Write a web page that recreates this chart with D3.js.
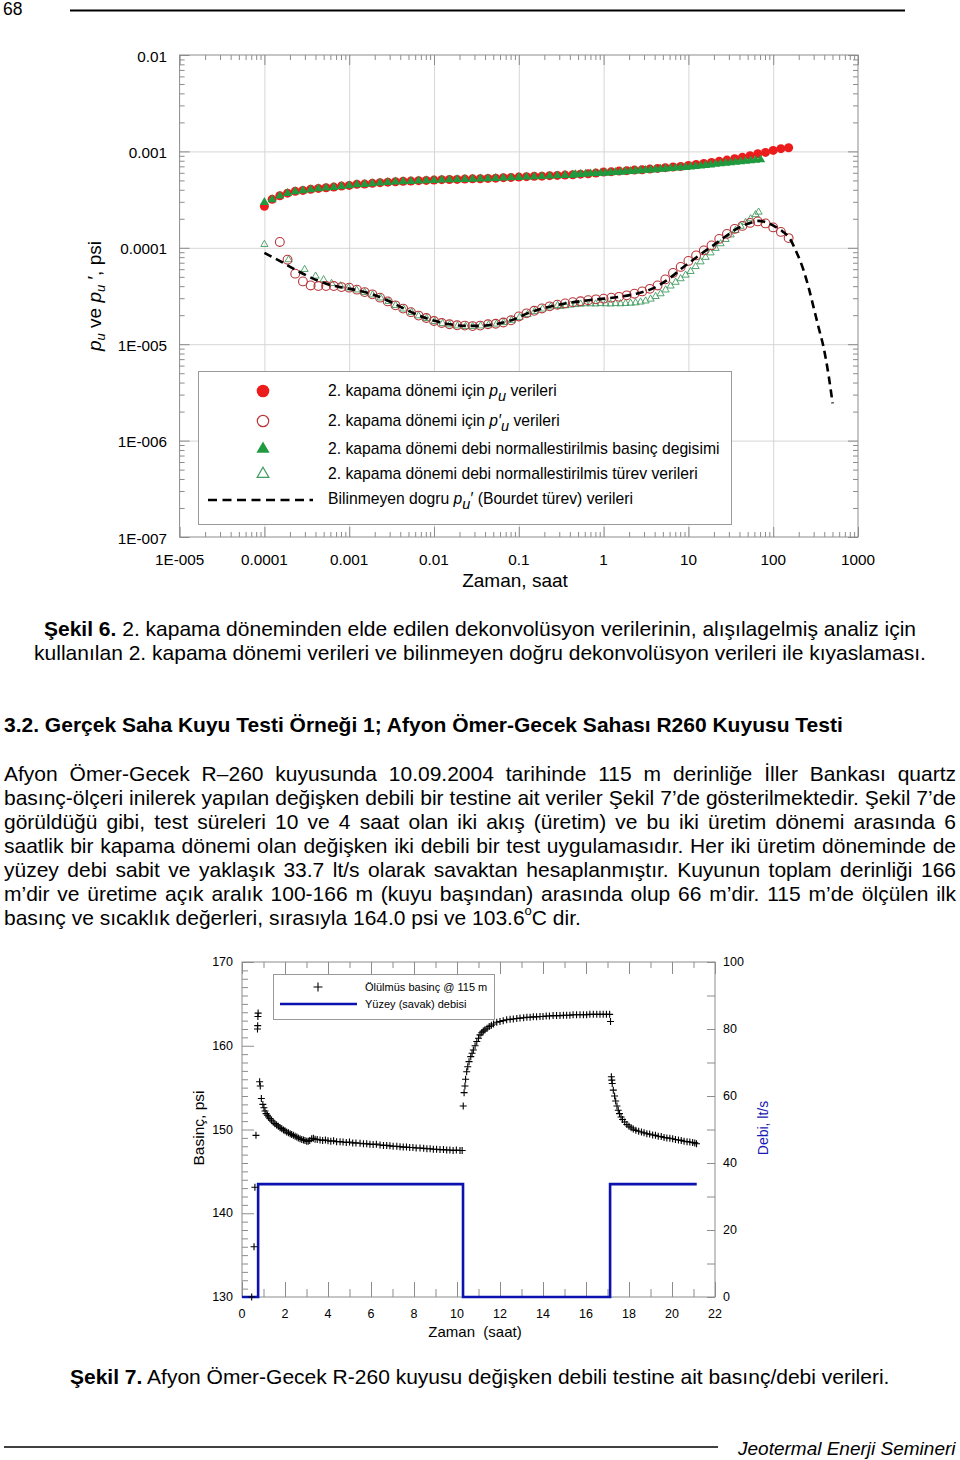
<!DOCTYPE html>
<html><head><meta charset="utf-8">
<script src="https://cdn.jsdelivr.net/npm/d3@7"></script>
<style>
body{margin:0;background:#fff}
svg{display:block}
text{font-family:"Liberation Sans",Arial,Helvetica,sans-serif;fill:#000}
</style>
</head><body>
<svg id="page" width="960" height="1460"></svg>
<script>
// ---------------- DATA: chart 1 (log-log, Şekil 6) ----------------
const xTickLabels1 = ["1E-005","0.0001","0.001","0.01","0.1","1","10","100","1000"];
const yTickLabels1 = ["1E-007","1E-006","1E-005","0.0001","0.001","0.01"];

const shutinTimes = [1e-4,1.233e-4,1.52e-4,1.874e-4,2.31e-4,2.848e-4,3.511e-4,4.329e-4,5.337e-4,6.579e-4,8.111e-4,
1e-3,1.233e-3,1.52e-3,1.874e-3,2.31e-3,2.848e-3,3.511e-3,4.329e-3,5.337e-3,6.579e-3,8.111e-3,
0.01,0.01233,0.0152,0.01874,0.0231,0.02848,0.03511,0.04329,0.05337,0.06579,0.08111,
0.1,0.1233,0.152,0.1874,0.231,0.2848,0.3511,0.4329,0.5337,0.6579,0.8111,
1,1.233,1.52,1.874,2.31,2.848,3.511,4.329,5.337,6.579,8.111,
10,12.33,15.2,18.74,23.1,28.48,35.11,43.29,53.37,65.79,81.11,
100,123.3,152];

const puValues = [2.69e-4,3.18e-4,3.47e-4,3.69e-4,3.85e-4,3.94e-4,4.04e-4,4.13e-4,4.20e-4,4.26e-4,4.37e-4,
4.44e-4,4.55e-4,4.58e-4,4.66e-4,4.74e-4,4.80e-4,4.85e-4,4.89e-4,4.92e-4,4.97e-4,5.00e-4,
5.04e-4,5.09e-4,5.11e-4,5.12e-4,5.16e-4,5.19e-4,5.21e-4,5.25e-4,5.28e-4,5.34e-4,5.37e-4,
5.41e-4,5.47e-4,5.51e-4,5.54e-4,5.60e-4,5.64e-4,5.68e-4,5.73e-4,5.81e-4,5.87e-4,5.96e-4,
6.10e-4,6.16e-4,6.25e-4,6.31e-4,6.40e-4,6.46e-4,6.55e-4,6.66e-4,6.78e-4,6.87e-4,6.99e-4,
7.16e-4,7.33e-4,7.51e-4,7.69e-4,7.88e-4,8.12e-4,8.40e-4,8.67e-4,9.02e-4,9.47e-4,9.76e-4,
1.024e-3,1.067e-3,1.092e-3];

// p'_u : same times as p_u, starting from the 3rd time
const dpuValues = [1.15e-4,7.53e-5,5.39e-5,4.48e-5,4.07e-5,4.01e-5,4.01e-5,4.01e-5,3.91e-5,
3.86e-5,3.68e-5,3.47e-5,3.29e-5,3.04e-5,2.78e-5,2.53e-5,2.34e-5,2.15e-5,1.98e-5,1.87e-5,
1.74e-5,1.66e-5,1.61e-5,1.57e-5,1.56e-5,1.54e-5,1.56e-5,1.61e-5,1.63e-5,1.68e-5,1.77e-5,
1.94e-5,2.09e-5,2.22e-5,2.35e-5,2.47e-5,2.57e-5,2.65e-5,2.73e-5,2.79e-5,2.86e-5,2.92e-5,
2.97e-5,3.04e-5,3.10e-5,3.21e-5,3.34e-5,3.53e-5,3.75e-5,4.07e-5,4.70e-5,5.49e-5,6.34e-5,
7.31e-5,8.34e-5,9.40e-5,1.059e-4,1.237e-4,1.394e-4,1.571e-4,1.687e-4,1.813e-4,1.879e-4,1.791e-4,
1.628e-4,1.462e-4,1.261e-4];

// rate-normalised pressure change (green filled triangles)
const rnEarlyValues = [2.96e-4,3.16e-4,3.45e-4,3.67e-4,3.83e-4,3.92e-4,4.02e-4,4.11e-4,4.18e-4,4.24e-4,4.35e-4,
4.42e-4,4.53e-4,4.56e-4,4.64e-4,4.72e-4,4.78e-4,4.83e-4,4.87e-4,4.90e-4,4.95e-4,4.98e-4,
5.02e-4,5.07e-4,5.09e-4,5.10e-4,5.14e-4,5.17e-4,5.19e-4,5.23e-4,5.26e-4,5.31e-4,5.34e-4,
5.38e-4,5.43e-4,5.47e-4,5.50e-4,5.56e-4,5.60e-4,5.64e-4,5.69e-4];
const rnLateTimes = [0.4675,0.5356,0.6134,0.7026,0.8047,0.9218,1.056,1.209,1.385,1.586,1.817,2.082,2.385,2.731,3.129,3.583,4.104,4.701,5.384,6.168,7.065,8.091,9.268,10.61,12.16,13.93,15.95,18.27,20.93,23.98,27.47,31.46,36.04,41.28,47.27,54.15,62.02,71.03];
const rnLateValues = [5.76e-4,5.79e-4,5.83e-4,5.87e-4,5.91e-4,5.94e-4,5.97e-4,6.03e-4,6.07e-4,6.11e-4,6.17e-4,6.22e-4,6.28e-4,6.32e-4,6.38e-4,6.43e-4,6.49e-4,6.55e-4,6.60e-4,6.66e-4,6.73e-4,6.78e-4,6.84e-4,6.91e-4,6.99e-4,7.07e-4,7.17e-4,7.26e-4,7.37e-4,7.45e-4,7.54e-4,7.64e-4,7.73e-4,7.82e-4,7.91e-4,8.01e-4,8.10e-4,8.20e-4];

// rate-normalised derivative (green open triangles)
const rnDerivTimes = [1.0e-4,1.928e-4,2.979e-4,4.018e-4,4.989e-4,6.194e-4,7.925e-4,9.84e-4,1.222e-3,1.52e-3,1.888e-3,2.344e-3,2.917e-3,3.524e-3,4.385e-3,5.445e-3,6.577e-3,8.185e-3,1.016e-2,1.262e-2,1.528e-2,1.897e-2,2.36e-2,2.851e-2,3.548e-2,4.406e-2,5.47e-2,6.622e-2,8.22e-2,0.1021,0.127,0.1535,0.1909,0.2371,0.2871,
0.3111,0.3563,0.4081,0.4675,0.5356,0.6134,0.7026,0.8047,0.9218,1.056,1.209,1.385,1.586,1.817,2.082,2.385,2.731,3.129,3.583,4.104,4.701,5.384,6.168,7.065,8.091,9.268,10.61,12.16,13.93,15.95,18.27,20.93,23.98,27.47,31.46,36.04,41.28,47.27,54.15,62.02,67.27];
const rnDerivValues = [1.085e-4,7.53e-5,5.97e-5,5.09e-5,4.67e-5,4.27e-5,4.03e-5,3.84e-5,3.66e-5,3.45e-5,3.25e-5,3.02e-5,2.78e-5,2.53e-5,2.32e-5,2.14e-5,1.97e-5,1.85e-5,1.72e-5,1.64e-5,1.59e-5,1.55e-5,1.53e-5,1.53e-5,1.55e-5,1.59e-5,1.62e-5,1.68e-5,1.77e-5,1.90e-5,2.04e-5,2.19e-5,2.32e-5,2.44e-5,2.53e-5,
2.47e-5,2.51e-5,2.55e-5,2.58e-5,2.61e-5,2.63e-5,2.63e-5,2.62e-5,2.64e-5,2.63e-5,2.62e-5,2.64e-5,2.63e-5,2.65e-5,2.67e-5,2.69e-5,2.74e-5,2.81e-5,2.94e-5,3.13e-5,3.34e-5,3.66e-5,4.02e-5,4.39e-5,4.78e-5,5.21e-5,5.69e-5,6.40e-5,7.16e-5,7.97e-5,8.87e-5,9.88e-5,1.103e-4,1.222e-4,1.361e-4,1.515e-4,1.675e-4,1.834e-4,2.004e-4,2.21e-4,2.346e-4];

// unknown true Bourdet derivative (dashed)
const bourdetTimes = [1.0e-4,1.552e-4,2.399e-4,3.698e-4,5.715e-4,8.36e-4,1.256e-3,1.888e-3,2.917e-3,4.385e-3,6.577e-3,1.016e-2,1.528e-2,2.36e-2,3.548e-2,5.47e-2,8.22e-2,0.127,0.1909,0.2946,0.4426,0.6653,1.027,1.544,2.385,3.583,4.452,5.534,6.877,8.315,10.33,12.84,15.52,19.29,23.97,29.79,36.04,44.77,55.63,67.27,83.58,103.9,129.1,156.1,188.8,228.3,261.5,299.5,343.1,392.9,450.2,501.9];
const bourdetValues = [8.85e-5,7.23e-5,5.83e-5,4.82e-5,4.17e-5,3.88e-5,3.62e-5,3.29e-5,2.81e-5,2.35e-5,1.99e-5,1.75e-5,1.61e-5,1.55e-5,1.55e-5,1.62e-5,1.77e-5,2.09e-5,2.35e-5,2.57e-5,2.73e-5,2.86e-5,2.97e-5,3.10e-5,3.33e-5,3.70e-5,4.07e-5,4.59e-5,5.30e-5,6.11e-5,7.06e-5,8.14e-5,9.18e-5,1.046e-4,1.208e-4,1.377e-4,1.552e-4,1.707e-4,1.834e-4,1.901e-4,1.834e-4,1.667e-4,1.479e-4,1.252e-4,8.96e-5,5.83e-5,3.88e-5,2.41e-5,1.49e-5,9.27e-6,4.75e-6,2.43e-6];

// ---------------- DATA: chart 2 (Şekil 7) ----------------
const xTickLabels2 = [0,2,4,6,8,10,12,14,16,18,20,22];
const yLeftTicks2 = [130,140,150,160,170];
const yRightTicks2 = [0,20,40,60,80,100];
const flowTimes = [0,0.75,10.28,17.12,21.15];
const flowRates = [0,33.7,0,33.7,33.7];
const pressureTimes = [0.45,0.56,0.60,0.65,0.72,0.73,0.74,0.75,0.82,0.85,0.90,0.97,1.02,1.07,1.12,1.18,1.24,1.30,1.37,1.45,1.53,1.61,1.69,1.77,1.85,1.93,2.00,2.08,2.16,2.24,2.31,2.39,2.47,2.55,2.62,2.70,2.78,2.86,2.93,3.01,3.08,3.15,3.24,3.32,3.40,3.50,3.63,3.75,3.88,4.00,4.13,4.26,4.40,4.56,4.70,4.85,5.00,5.15,5.30,5.49,5.65,5.80,5.95,6.10,6.25,6.42,6.58,6.73,6.88,7.03,7.20,7.35,7.50,7.65,7.80,7.95,8.10,8.28,8.45,8.60,8.75,8.90,9.05,9.21,9.37,9.52,9.67,9.82,9.97,10.14,10.24,
10.29,10.33,10.37,10.40,10.45,10.50,10.56,10.64,10.70,10.76,10.84,10.92,11.00,11.07,11.15,11.22,11.30,11.40,11.50,11.60,11.70,11.85,12.00,12.15,12.31,12.47,12.62,12.78,12.93,13.10,13.25,13.40,13.55,13.70,13.86,14.00,14.15,14.30,14.47,14.63,14.79,14.95,15.10,15.25,15.40,15.56,15.72,15.88,16.03,16.18,16.34,16.50,16.65,16.80,16.95,17.10,
17.14,17.18,17.20,17.22,17.27,17.33,17.38,17.44,17.50,17.56,17.63,17.70,17.80,17.90,18.00,18.10,18.20,18.32,18.45,18.58,18.70,18.83,18.96,19.10,19.23,19.36,19.50,19.63,19.76,19.90,20.03,20.16,20.30,20.43,20.56,20.70,20.83,20.96,21.06,21.14];
const pressureValues = [130.0,136.0,143.1,149.3,162.0,162.4,163.5,163.9,155.7,155.2,153.7,153.0,152.6,152.2,151.9,151.7,151.5,151.3,151.1,150.9,150.7,150.55,150.4,150.2,150.1,149.95,149.85,149.7,149.6,149.5,149.4,149.3,149.2,149.1,149.0,148.9,148.8,148.75,148.7,148.6,148.6,148.7,148.9,148.95,148.85,148.8,148.75,148.7,148.75,148.65,148.6,148.65,148.55,148.55,148.5,148.45,148.5,148.4,148.4,148.35,148.3,148.3,148.25,148.2,148.25,148.15,148.1,148.1,148.05,148.0,148.0,147.95,147.9,147.9,147.85,147.85,147.8,147.8,147.75,147.7,147.7,147.65,147.65,147.6,147.6,147.55,147.55,147.5,147.55,147.5,147.5,
152.8,154.4,155.2,156.0,156.9,157.5,158.1,158.7,159.1,159.5,160.0,160.5,160.9,161.3,161.55,161.75,161.9,162.1,162.3,162.45,162.6,162.8,162.9,163.0,163.1,163.15,163.2,163.25,163.3,163.35,163.4,163.4,163.45,163.45,163.5,163.5,163.55,163.55,163.6,163.6,163.6,163.65,163.65,163.65,163.7,163.7,163.7,163.7,163.7,163.75,163.75,163.75,163.75,163.75,163.75,163.75,
162.9,156.3,155.9,155.5,154.7,154.0,153.4,152.8,152.3,151.9,151.5,151.2,150.9,150.6,150.4,150.2,150.05,149.9,149.8,149.7,149.6,149.5,149.45,149.35,149.3,149.2,149.15,149.05,149.0,148.95,148.9,148.8,148.75,148.7,148.6,148.55,148.5,148.45,148.4,148.3];

// ---------------- TEXT ----------------
const pageNumber = "68";
const footerText = "Jeotermal Enerji Semineri";
const caption6a = ["Şekil 6.", " 2. kapama döneminden elde edilen dekonvolüsyon verilerinin, alışılagelmiş analiz için"];
const caption6b = "kullanılan 2. kapama dönemi verileri ve bilinmeyen doğru dekonvolüsyon verileri ile kıyaslaması.";
const sectionTitle = "3.2. Gerçek Saha Kuyu Testi Örneği 1; Afyon Ömer-Gecek Sahası R260 Kuyusu Testi";
const paragraphLines = [
 "Afyon Ömer-Gecek R–260 kuyusunda 10.09.2004 tarihinde 115 m derinliğe İller Bankası quartz",
 "basınç-ölçeri inilerek yapılan değişken debili bir testine ait veriler Şekil 7’de gösterilmektedir. Şekil 7’de",
 "görüldüğü gibi, test süreleri 10 ve 4 saat olan iki akış (üretim) ve bu iki üretim dönemi arasında 6",
 "saatlik bir kapama dönemi olan değişken iki debili bir test uygulamasıdır. Her iki üretim döneminde de",
 "yüzey debi sabit ve yaklaşık 33.7 lt/s olarak savaktan hesaplanmıştır. Kuyunun toplam derinliği 166",
 "m’dir ve üretime açık aralık 100-166 m (kuyu başından) arasında olup 66 m’dir. 115 m’de ölçülen ilk"
];
const paragraphLast = ["basınç ve sıcaklık değerleri, sırasıyla 164.0 psi ve 103.6", "o", "C dir."];
const caption7 = ["Şekil 7.", " Afyon Ömer-Gecek R-260 kuyusu değişken debili testine ait basınç/debi verileri."];

// ---------------- DRAWING ----------------
const svg = d3.select('#page');
const AX = '#8c8c8c';

// header
svg.append('text').attr('x',3).attr('y',9).attr('dominant-baseline','central').attr('font-size',17.5).text(pageNumber);
svg.append('line').attr('x1',70).attr('x2',905).attr('y1',10.5).attr('y2',10.5).attr('stroke','#000').attr('stroke-width',2);

// ===== Chart 1 =====
const c1 = svg.append('g');
const X1L=179.6, X1R=858, Y1T=55, Y1B=537;
const x1 = d3.scaleLog().domain([1e-5,1000]).range([X1L,X1R]);
const y1 = d3.scaleLog().domain([1e-7,0.01]).range([Y1B,Y1T]);
const isMajor = v => Math.abs(Math.log10(v)-Math.round(Math.log10(v)))<1e-6;
const xMaj1 = xTickLabels1.map(Number), yMaj1 = yTickLabels1.map(Number);
const xMin1 = x1.ticks().filter(v=>!isMajor(v));
const yMin1 = y1.ticks().filter(v=>!isMajor(v));

// grid
c1.append('g').attr('transform',`translate(0,${Y1B})`)
  .call(d3.axisBottom(x1).tickValues(xMaj1.slice(1,-1)).tickSize(-(Y1B-Y1T)).tickFormat(''))
  .call(g=>{g.select('.domain').remove(); g.selectAll('line').attr('stroke','#d6d6d6');});
c1.append('g').attr('transform',`translate(${X1L},0)`)
  .call(d3.axisLeft(y1).tickValues(yMaj1.slice(1,-1)).tickSize(-(X1R-X1L)).tickFormat(''))
  .call(g=>{g.select('.domain').remove(); g.selectAll('line').attr('stroke','#d6d6d6');});

function tickSet(g, axis, vals, size){
  g.call(axis.tickValues(vals).tickSize(-size).tickFormat(''))
   .call(s=>{s.select('.domain').remove(); s.selectAll('line').attr('stroke',AX);});
}
[[d3.axisBottom,`translate(0,${Y1B})`,x1,xMaj1,xMin1],[d3.axisTop,`translate(0,${Y1T})`,x1,xMaj1,xMin1],
 [d3.axisLeft,`translate(${X1L},0)`,y1,yMaj1,yMin1],[d3.axisRight,`translate(${X1R},0)`,y1,yMaj1,yMin1]]
 .forEach(([fn,tr,sc,maj,min])=>{
   tickSet(c1.append('g').attr('transform',tr), fn(sc), maj, 10);
   tickSet(c1.append('g').attr('transform',tr), fn(sc), min, 5);
 });
c1.append('rect').attr('x',X1L).attr('y',Y1T).attr('width',X1R-X1L).attr('height',Y1B-Y1T)
  .attr('fill','none').attr('stroke',AX);

// tick labels
c1.selectAll('.xl').data(xTickLabels1).join('text').attr('x',d=>x1(+d)).attr('y',559)
  .attr('text-anchor','middle').attr('dominant-baseline','central').attr('font-size',15.3).text(d=>d);
c1.selectAll('.yl').data(yTickLabels1).join('text').attr('x',167).attr('y',d=>y1(+d)+1)
  .attr('text-anchor','end').attr('dominant-baseline','central').attr('font-size',15.3).text(d=>d);
c1.append('text').attr('x',515).attr('y',580).attr('text-anchor','middle').attr('dominant-baseline','central')
  .attr('font-size',19).text('Zaman, saat');
{
  const t = c1.append('text').attr('transform','translate(101,296) rotate(-90)').attr('text-anchor','middle')
    .attr('font-size',19);
  t.append('tspan').attr('font-style','italic').text('p');
  t.append('tspan').attr('font-style','italic').attr('font-size',13).attr('dy',4).text('u');
  t.append('tspan').attr('dy',-4).text(' ve ');
  t.append('tspan').attr('font-style','italic').text('p');
  t.append('tspan').attr('font-style','italic').attr('font-size',13).attr('dy',4).text('u');
  t.append('tspan').attr('dy',-4).text(' ′, psi');
}

const RED='#ec1c1c', ORED='#b8363a', GRN='#1f9a3f', OGRN='#3f9b5f';
const tri = d3.symbol().type(d3.symbolTriangle);
const line1 = d3.line().x(d=>x1(d[0])).y(d=>y1(d[1]));

// open triangles (derivative, rate-normalised)
c1.append('g').selectAll('path').data(d3.zip(rnDerivTimes,rnDerivValues)).join('path')
  .attr('transform',d=>`translate(${x1(d[0])},${y1(d[1])})`).attr('d',tri.size(22)())
  .attr('fill','none').attr('stroke',OGRN).attr('stroke-width',0.9);
// open circles p'_u
c1.append('g').selectAll('circle').data(d3.zip(shutinTimes.slice(2),dpuValues)).join('circle')
  .attr('cx',d=>x1(d[0])).attr('cy',d=>y1(d[1])).attr('r',4.4)
  .attr('fill','none').attr('stroke',ORED).attr('stroke-width',1.1);
// dashed Bourdet
c1.append('path').datum(d3.zip(bourdetTimes,bourdetValues))
  .attr('d',line1.curve(d3.curveMonotoneX)).attr('fill','none').attr('stroke','#000')
  .attr('stroke-width',2.6).attr('stroke-dasharray','8,5');
// red filled
c1.append('g').selectAll('circle').data(d3.zip(shutinTimes,puValues)).join('circle')
  .attr('cx',d=>x1(d[0])).attr('cy',d=>y1(d[1])).attr('r',4.5).attr('fill',RED);
// green filled
const rnAll = d3.zip(shutinTimes.slice(0,rnEarlyValues.length),rnEarlyValues).concat(d3.zip(rnLateTimes,rnLateValues));
c1.append('g').selectAll('path').data(rnAll).join('path')
  .attr('transform',d=>`translate(${x1(d[0])},${y1(d[1])})`).attr('d',tri.size(36)())
  .attr('fill',GRN);

// legend
{
  const L = c1.append('g');
  L.append('rect').attr('x',198.5).attr('y',371.5).attr('width',533).attr('height',153)
    .attr('fill','#fff').attr('stroke','#9a9a9a');
  const rows=[391,421,449,474,499];
  L.append('circle').attr('cx',263).attr('cy',rows[0]).attr('r',6.3).attr('fill',RED);
  L.append('circle').attr('cx',263).attr('cy',rows[1]).attr('r',5.7).attr('fill','none').attr('stroke',ORED).attr('stroke-width',1.2);
  L.append('path').attr('transform',`translate(263,${rows[2]})`).attr('d',tri.size(75)()).attr('fill',GRN);
  L.append('path').attr('transform',`translate(263,${rows[3]})`).attr('d',tri.size(60)()).attr('fill','none').attr('stroke',OGRN).attr('stroke-width',1.2);
  L.append('line').attr('x1',208).attr('x2',313).attr('y1',rows[4]+1).attr('y2',rows[4]+1)
    .attr('stroke','#000').attr('stroke-width',2.6).attr('stroke-dasharray','9,5.5');
  const mk=(y,parts)=>{
    const t=L.append('text').attr('x',328).attr('y',y+5).attr('font-size',15.7);
    parts.forEach(p=>{
      const s=t.append('tspan').text(p.t);
      if(p.i) s.attr('font-style','italic');
      if(p.dy) s.attr('dy',p.dy);
      if(p.fs) s.attr('font-size',p.fs);
    });
  };
  mk(rows[0],[{t:'2. kapama dönemi için '},{t:'p',i:1},{t:'u',i:1,dy:5,fs:14.5},{t:' verileri',dy:-5}]);
  mk(rows[1],[{t:'2. kapama dönemi için '},{t:'p′',i:1},{t:'u',i:1,dy:5,fs:14.5},{t:' verileri',dy:-5}]);
  mk(rows[2],[{t:'2. kapama dönemi debi normallestirilmis basinç degisimi'}]);
  mk(rows[3],[{t:'2. kapama dönemi debi normallestirilmis türev verileri'}]);
  mk(rows[4],[{t:'Bilinmeyen dogru '},{t:'p',i:1},{t:'u',i:1,dy:5,fs:14.5},{t:'′',dy:-5},{t:' (Bourdet türev) verileri'}]);
}

// ===== captions & paragraph =====
const FS=21;
function richLine(parts, x, y, anchor, size){
  const t=svg.append('text').attr('x',x).attr('y',y).attr('dominant-baseline','central')
    .attr('text-anchor',anchor).attr('font-size',size);
  parts.forEach((p,i)=>{ const s=t.append('tspan').text(p); if(i===0) s.attr('font-weight','bold'); });
  return t;
}
richLine(caption6a, 480, 628, 'middle', FS);
svg.append('text').attr('x',480).attr('y',652).attr('text-anchor','middle').attr('dominant-baseline','central')
  .attr('font-size',FS).text(caption6b);
svg.append('text').attr('x',4).attr('y',724).attr('dominant-baseline','central').attr('font-size',FS)
  .attr('font-weight','bold').text(sectionTitle);

function justify(str, y, xa, xb, size){
  const words=str.split(' ');
  const g=svg.append('g');
  const nodes=words.map(w=>g.append('text').attr('y',y).attr('dominant-baseline','central').attr('font-size',size).text(w));
  const widths=nodes.map(n=>n.node().getComputedTextLength());
  const gap=(xb-xa-d3.sum(widths))/(words.length-1);
  let x=xa;
  nodes.forEach((n,i)=>{n.attr('x',x); x+=widths[i]+gap;});
}
paragraphLines.forEach((l,i)=>justify(l, 773+24*i, 4, 956, FS));
{
  const t=svg.append('text').attr('x',4).attr('y',917).attr('dominant-baseline','central').attr('font-size',FS);
  t.append('tspan').text(paragraphLast[0]);
  t.append('tspan').attr('font-size',13).attr('dy',-7).text(paragraphLast[1]);
  t.append('tspan').attr('dy',7).text(paragraphLast[2]);
}

// ===== Chart 2 =====
const c2 = svg.append('g');
const X2L=242, X2R=715, Y2T=962, Y2B=1297;
const x2 = d3.scaleLinear().domain([0,22]).range([X2L,X2R]);
const yL = d3.scaleLinear().domain([130,170]).range([Y2B,Y2T]);
const yR = d3.scaleLinear().domain([0,100]).range([Y2B,Y2T]);
const hrs = d3.range(0,23), psiMin = d3.range(130,171), rateMin = d3.range(0,101,10);
function ticks2(tr, axis, vals, size){
  c2.append('g').attr('transform',tr).call(axis.tickValues(vals).tickSize(-size).tickFormat(''))
    .call(s=>{s.select('.domain').remove(); s.selectAll('line').attr('stroke',AX);});
}
ticks2(`translate(0,${Y2B})`, d3.axisBottom(x2), xTickLabels2, 15);
ticks2(`translate(0,${Y2B})`, d3.axisBottom(x2), hrs.filter(h=>h%2), 8);
ticks2(`translate(0,${Y2T})`, d3.axisTop(x2), xTickLabels2, 12);
ticks2(`translate(0,${Y2T})`, d3.axisTop(x2), hrs.filter(h=>h%2), 6);
ticks2(`translate(${X2L},0)`, d3.axisLeft(yL), yLeftTicks2, 12);
ticks2(`translate(${X2L},0)`, d3.axisLeft(yL), psiMin.filter(v=>v%10), 6);
ticks2(`translate(${X2R},0)`, d3.axisRight(yR), rateMin, 8);
c2.append('rect').attr('x',X2L).attr('y',Y2T).attr('width',X2R-X2L).attr('height',Y2B-Y2T)
  .attr('fill','none').attr('stroke',AX);

c2.selectAll('.bx').data(xTickLabels2).join('text').attr('x',d=>x2(d)).attr('y',1314)
  .attr('text-anchor','middle').attr('dominant-baseline','central').attr('font-size',12.5).text(d=>d);
c2.selectAll('.ly').data(yLeftTicks2).join('text').attr('x',233).attr('y',d=>yL(d)).attr('text-anchor','end')
  .attr('dominant-baseline','central').attr('font-size',12.5).text(d=>d);
c2.selectAll('.ry').data(yRightTicks2).join('text').attr('x',723).attr('y',d=>yR(d)).attr('text-anchor','start')
  .attr('dominant-baseline','central').attr('font-size',12.5).text(d=>d);
c2.append('text').attr('x',475).attr('y',1331).attr('text-anchor','middle').attr('dominant-baseline','central')
  .attr('font-size',15).text('Zaman\u00a0 (saat)');
c2.append('text').attr('transform','translate(198,1128) rotate(-90)').attr('text-anchor','middle')
  .attr('dominant-baseline','central').attr('font-size',15.5).text('Basinç, psi');
c2.append('text').attr('transform','translate(763,1128) rotate(-90)').attr('text-anchor','middle')
  .attr('dominant-baseline','central').attr('font-size',14).style('fill','#1a1ab4').text('Debi, lt/s');

const BLUE='#0c12b0';
c2.append('path').datum(d3.zip(flowTimes,flowRates))
  .attr('d',d3.line().x(d=>x2(d[0])).y(d=>yR(d[1])).curve(d3.curveStepAfter))
  .attr('fill','none').attr('stroke',BLUE).attr('stroke-width',2.6);
const plus = 'M-3.5,0H3.5M0,-3.5V3.5';
c2.append('g').selectAll('path').data(d3.zip(pressureTimes,pressureValues)).join('path')
  .attr('transform',d=>`translate(${x2(d[0])},${yL(d[1])})`).attr('d',plus)
  .attr('stroke','#000').attr('stroke-width',1.1).attr('fill','none');

// legend chart 2
{
  const L=c2.append('g');
  L.append('rect').attr('x',273.5).attr('y',974.5).attr('width',221).attr('height',45).attr('fill','#fff').attr('stroke','#999');
  L.append('path').attr('transform','translate(318,987)').attr('d','M-4.5,0H4.5M0,-4.5V4.5').attr('stroke','#000').attr('stroke-width',1.1);
  L.append('line').attr('x1',280).attr('x2',357).attr('y1',1004).attr('y2',1004).attr('stroke',BLUE).attr('stroke-width',2.6);
  L.append('text').attr('x',365).attr('y',987).attr('dominant-baseline','central').attr('font-size',11).text('Ölülmüs basinç @ 115 m');
  L.append('text').attr('x',365).attr('y',1004).attr('dominant-baseline','central').attr('font-size',11).text('Yüzey (savak) debisi');
}

// caption 7 & footer
richLine(caption7, 70, 1376, 'start', FS);
svg.append('line').attr('x1',4).attr('x2',718).attr('y1',1447).attr('y2',1447).attr('stroke','#000').attr('stroke-width',1.5);
svg.append('text').attr('x',738).attr('y',1448).attr('dominant-baseline','central').attr('font-size',19)
  .attr('font-style','italic').text(footerText);
</script>
</body></html>
